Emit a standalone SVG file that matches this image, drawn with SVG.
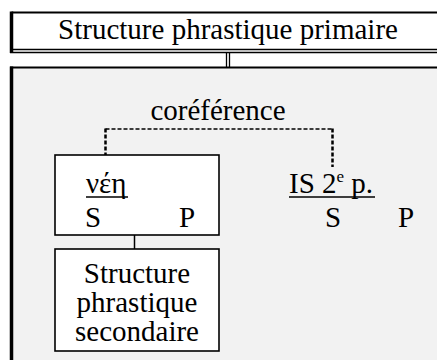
<svg xmlns="http://www.w3.org/2000/svg" width="437" height="360" viewBox="0 0 437 360">
<style>
text{font-family:"Liberation Serif","Times New Roman",serif;fill:#000;font-size:29px}
.box{fill:#fff;stroke:#000;stroke-width:1.6}
.ln{stroke:#000;fill:none}
.dash{stroke:#000;fill:none;stroke-dasharray:4 2}
</style>
<rect width="437" height="360" fill="#fff"/>
<g id="primary">
<rect x="11.5" y="13" width="440" height="36" fill="#fff"/>
<line class="ln" x1="11.5" y1="12.5" x2="437" y2="12.5" stroke-width="2"/>
<line class="ln" x1="11.5" y1="11.5" x2="11.5" y2="53" stroke-width="3.5"/>
<line class="ln" x1="10" y1="49.5" x2="437" y2="49.5" stroke-width="1.5"/>
<line class="ln" x1="10" y1="52.5" x2="437" y2="52.5" stroke-width="1.5"/>
<text x="228" y="39" text-anchor="middle">Structure phrastique primaire</text>
</g>
<g id="frame">
<rect x="11.5" y="67.5" width="440" height="300" fill="#f2f2f2"/>
<line class="ln" x1="10" y1="67.5" x2="437" y2="67.5" stroke-width="2"/>
<line class="ln" x1="11.5" y1="66.5" x2="11.5" y2="360" stroke-width="3.5"/>
</g>
<g id="connectors">
<line class="ln" x1="226.5" y1="53" x2="226.5" y2="67" stroke-width="1.3"/>
<line class="ln" x1="229.5" y1="53" x2="229.5" y2="67" stroke-width="1.3"/>
<line class="dash" x1="105.5" y1="129" x2="332.5" y2="129" stroke-width="1.5"/>
<line class="dash" x1="105.5" y1="128.5" x2="105.5" y2="167" stroke-width="2.5"/>
<line class="dash" x1="332.5" y1="128.5" x2="332.5" y2="167" stroke-width="2.5"/>
<line class="ln" x1="134.5" y1="235" x2="134.5" y2="249" stroke-width="1.5"/>
<text x="218" y="120" text-anchor="middle">coréférence</text>
</g>
<g id="neh">
<rect class="box" x="55" y="155" width="164" height="80"/>
<text x="86" y="193">νέη</text>
<line class="ln" x1="86" y1="197" x2="128" y2="197" stroke-width="1.4"/>
<text x="85" y="227">S</text>
<text x="179" y="227">P</text>
</g>
<g id="is2p">
<text x="289" y="193">IS 2<tspan font-size="17" dy="-11">e</tspan><tspan dy="11"> p.</tspan></text>
<line class="ln" x1="289" y1="197" x2="375" y2="197" stroke-width="1.4"/>
<text x="325" y="227">S</text>
<text x="398" y="227">P</text>
</g>
<g id="secondary">
<rect class="box" x="55" y="249" width="164" height="102"/>
<text x="137" y="283" text-anchor="middle">Structure</text>
<text x="137" y="312" text-anchor="middle">phrastique</text>
<text x="137" y="341" text-anchor="middle">secondaire</text>
</g>
</svg>
